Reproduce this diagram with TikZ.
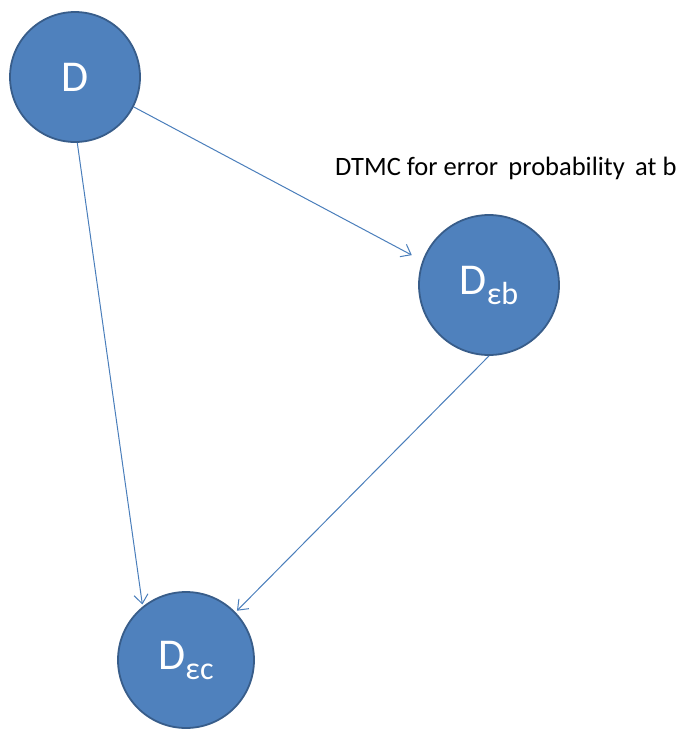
\documentclass[tikz,border=0pt]{standalone}
\usepackage{fontspec}
\setmainfont{Carlito}
\usetikzlibrary{arrows.meta}
\definecolor{fillblue}{HTML}{4F81BD}
\definecolor{edgeblue}{HTML}{385D8A}
\definecolor{arrowblue}{HTML}{4A7EBB}
\tikzset{
  state/.style={circle, fill=fillblue, draw=edgeblue, line width=1.8pt, minimum size=134pt, inner sep=0pt, text=white},
  conn/.style={draw=arrowblue, line width=1pt, -{Straight Barb[length=9pt,width=14pt,line width=1pt]}},
}
\newcommand{\bigD}{\fontsize{44}{44}\selectfont D}
\newcommand{\subtxt}[1]{\raisebox{-10pt}{\fontsize{32}{32}\selectfont #1}}
\begin{document}
\begin{tikzpicture}[x=1pt,y=-1pt]
\useasboundingbox (0,0) rectangle (688,731);
\node[state, minimum size=130pt] (D) at (75,77) {\bigD};
\node[state, minimum size=140pt] (Deb) at (489,285) {\bigD\subtxt{εb}};
\node[state, minimum size=136pt] (Dec) at (186,660) {\bigD\subtxt{εc}};
\node[anchor=west, font=\fontsize{26.5}{26.5}\selectfont, inner sep=0pt] (lbl) at (335,168) {DTMC for error\, probability\, at b};
\draw[conn, shorten >=12pt] (D.-27) -- (Deb.160);
\draw[conn, shorten >=2pt] (D.-88) -- (Dec.129);
\draw[conn, shorten >=2pt] (Deb.-90) -- (Dec.44);
\end{tikzpicture}
\end{document}
